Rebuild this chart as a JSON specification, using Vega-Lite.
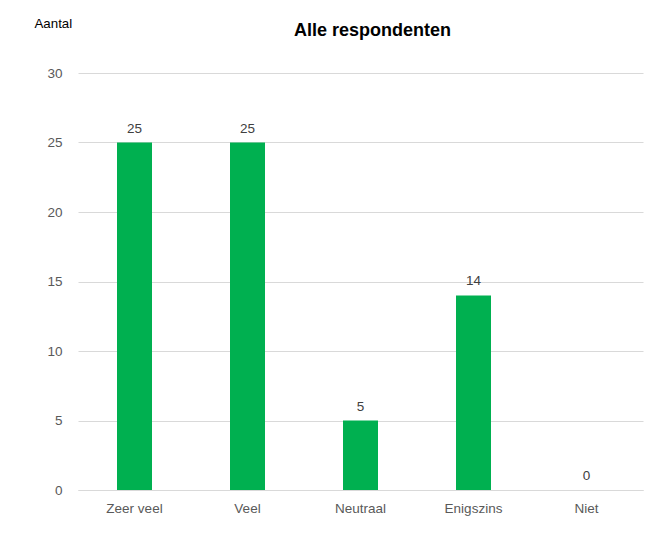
{
  "$schema": "https://vega.github.io/schema/vega-lite/v6.json",
  "autosize": {"type": "none"},
  "width": 565,
  "height": 417,
  "padding": {"left": 78, "top": 73, "right": 6, "bottom": 63},
  "background": "white",
  "title": {
    "text": "Alle respondenten",
    "font": "Liberation Sans",
    "fontSize": 18,
    "fontWeight": "bold",
    "color": "#000000",
    "anchor": "middle",
    "dx": 12,
    "offset": -24
  },
  "data": {
    "values": [
      {"categorie": "Zeer veel", "aantal": 25},
      {"categorie": "Veel", "aantal": 25},
      {"categorie": "Neutraal", "aantal": 5},
      {"categorie": "Enigszins", "aantal": 14},
      {"categorie": "Niet", "aantal": 0}
    ]
  },
  "encoding": {
    "x": {
      "field": "categorie",
      "type": "nominal",
      "sort": null,
      "scale": {"paddingInner": 0.69, "paddingOuter": 0.345},
      "axis": {
        "title": null,
        "labelAngle": 0,
        "labelFont": "Liberation Sans",
        "labelFontSize": 13.5,
        "labelColor": "#595959",
        "labelPadding": 11,
        "ticks": false,
        "domainColor": "#d9d9d9",
        "domainWidth": 1
      }
    },
    "y": {
      "field": "aantal",
      "type": "quantitative",
      "scale": {"domain": [0, 30]},
      "axis": {
        "values": [0, 5, 10, 15, 20, 25, 30],
        "title": "Aantal",
        "titleAngle": 0,
        "titleX": -44,
        "titleY": -46,
        "titleAlign": "left",
        "titleBaseline": "alphabetic",
        "titleFont": "Liberation Sans",
        "titleFontSize": 13.3,
        "titleFontWeight": "normal",
        "titleColor": "#000000",
        "labelFont": "Liberation Sans",
        "labelFontSize": 13.5,
        "labelColor": "#595959",
        "labelPadding": 16,
        "domain": false,
        "ticks": false,
        "gridColor": "#d9d9d9",
        "gridWidth": 1
      }
    }
  },
  "layer": [
    {"mark": {"type": "bar", "color": "#00b050", "size": 35}},
    {
      "mark": {"type": "text", "dy": -7, "font": "Liberation Sans", "fontSize": 13.5, "color": "#404040", "baseline": "bottom"},
      "encoding": {"text": {"field": "aantal", "type": "quantitative"}}
    }
  ],
  "config": {"view": {"stroke": null}}
}
